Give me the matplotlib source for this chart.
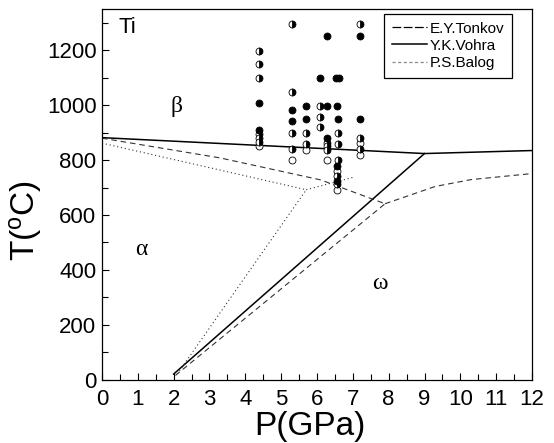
import matplotlib
matplotlib.use("Agg")
import matplotlib.pyplot as plt
from matplotlib.lines import Line2D

plt.rcParams['font.family'] = ['Liberation Sans', 'DejaVu Sans']
plt.rcParams['mathtext.fontset'] = 'custom'
plt.rcParams['mathtext.rm'] = 'Liberation Sans'
plt.rcParams['mathtext.it'] = 'Liberation Sans'

# ---- phase boundary data ----
# Y.K.Vohra (solid)
vohra_ba_P = [0.0, 9.0, 12.0]
vohra_ba_T = [882, 824, 835]
vohra_aw_P = [2.0, 9.0]
vohra_aw_T = [20, 824]

# P.S.Balog (dashed)
balog_ba_P = [0.0, 3.3, 6.1, 7.9]
balog_ba_T = [880, 808, 728, 641]
balog_bw_P = [7.9, 9.3, 10.3, 12.0]
balog_bw_T = [641, 704, 729, 751]
balog_aw_P = [2.05, 7.9]
balog_aw_T = [15, 641]

# E.Y.Tonkov (dotted)
tonkov_ba_P = [0.0, 5.7]
tonkov_ba_T = [862, 692]
tonkov_bw_P = [5.7, 7.0]
tonkov_bw_T = [692, 737]
tonkov_aw_P = [2.1, 5.7]
tonkov_aw_T = [20, 692]

# ---- experimental points ----
filled_P = [4.37, 4.37, 5.29, 5.29, 5.70, 5.70, 6.07, 6.28, 6.28, 6.28,
            6.52, 6.62, 6.57, 6.58, 6.57, 6.57, 7.19, 7.19]
filled_T = [1008, 910, 981, 941, 999, 951, 1099, 1252, 999, 882,
            1099, 1099, 999, 951, 780, 725, 1252, 951]

half_P = [4.37, 4.37, 4.37, 4.37, 4.37, 4.37, 5.29, 5.29, 5.29, 5.29,
          5.70, 5.70, 6.08, 6.08, 6.08, 6.28, 6.28, 6.28, 6.58, 6.58,
          6.58, 6.57, 6.57, 7.19, 7.19, 7.19]
half_T = [1199, 1150, 1099, 895, 880, 866, 1297, 1050, 898, 840,
          898, 858, 999, 959, 919, 864, 850, 837, 898, 859,
          801, 743, 713, 1297, 880, 840]

open_P = [4.37, 5.29, 5.70, 6.28, 6.57, 6.57, 7.19, 7.19]
open_T = [850, 800, 838, 801, 760, 690, 862, 820]

x_ticks = list(range(0, 13))
y_ticks = [0, 200, 400, 600, 800, 1000, 1200]

fig = plt.figure(figsize=(5.54, 4.43), dpi=100)
ax = fig.add_axes([0.1841, 0.1433, 0.7762, 0.8357])

# lines
ax.plot(vohra_ba_P, vohra_ba_T, color='black', lw=1.1)
ax.plot(vohra_aw_P, vohra_aw_T, color='black', lw=1.1)
dash = (0, (5, 3.5))
for P, T in [(balog_ba_P, balog_ba_T), (balog_bw_P, balog_bw_T), (balog_aw_P, balog_aw_T)]:
    ax.plot(P, T, color='#333333', lw=0.8, linestyle=dash)
dot = (0, (1, 2.5))
for P, T in [(tonkov_ba_P, tonkov_ba_T), (tonkov_bw_P, tonkov_bw_T), (tonkov_aw_P, tonkov_aw_T)]:
    ax.plot(P, T, color='#333333', lw=0.8, linestyle=dot)

ms = 5.0
ax.plot(open_P, open_T, 'o', ms=ms, mfc='white', mec='black', mew=0.6, ls='none', zorder=5)
ax.plot(half_P, half_T, 'o', ms=ms, mfc='black', mfcalt='white', fillstyle='right',
        mec='black', mew=0.6, ls='none', zorder=6)
ax.plot(filled_P, filled_T, 'o', ms=ms, mfc='black', mec='black', mew=0.6, ls='none', zorder=7)

ax.set_xlim(0, 12)
ax.set_ylim(0, 1350)
ax.set_xticks(x_ticks)
ax.set_yticks(y_ticks)
ax.set_xticks([x + 0.5 for x in range(12)], minor=True)
ax.set_yticks(list(range(100, 1400, 200)), minor=True)
ax.tick_params(which='both', direction='in', top=False, right=False, labelsize=16)
ax.tick_params(axis='x', pad=7)
ax.tick_params(axis='y', pad=4)
ax.tick_params(which='major', length=5, width=0.8)
ax.tick_params(which='minor', length=4, width=0.8)
for s in ax.spines.values():
    s.set_linewidth(0.9)

ax.set_xlabel('P(GPa)', fontsize=24, va='top')
ax.xaxis.set_label_coords(0.484, -0.085)
ax.set_ylabel(r'T($^{\rm o}$C)', fontsize=24)
ax.yaxis.set_label_coords(-0.135, 0.43)

ax.text(0.45, 1283, 'Ti', fontsize=16, va='center', ha='left')
serif = ['Liberation Serif', 'DejaVu Serif']
ax.text(2.09, 996, 'β', fontsize=17, family=serif, ha='center', va='center')
ax.text(1.11, 473, 'α', fontsize=17, family=serif, ha='center', va='center')
ax.text(7.76, 349, 'ω', fontsize=17, family=serif, ha='center', va='center')

handles = [
    Line2D([], [], color='black', lw=0.9, linestyle=(0, (7, 2))),
    Line2D([], [], color='black', lw=1.1),
    Line2D([], [], color='#888888', lw=0.9, linestyle=(0, (2.5, 2))),
]
labels = ['E.Y.Tonkov', 'Y.K.Vohra', 'P.S.Balog']
leg = ax.legend(handles, labels, loc='upper left', bbox_to_anchor=(0.656, 0.987),
                borderaxespad=0, fontsize=11, frameon=True,
                fancybox=False, edgecolor='black', framealpha=1,
                handlelength=2.3, handletextpad=0.2, labelspacing=0.2,
                borderpad=0.5)
leg.get_frame().set_linewidth(0.9)

fig.savefig('out.png', dpi=100)
